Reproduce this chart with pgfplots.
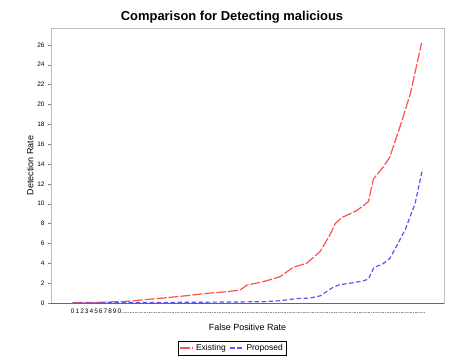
\documentclass[border=0pt]{standalone}
\usepackage{pgfplots}
\pgfplotsset{compat=1.18}
\usepackage{fontspec}
\setmainfont{Liberation Sans}
\definecolor{exred}{RGB}{255,80,80}
\definecolor{prblue}{RGB}{85,85,255}
\definecolor{frame}{RGB}{190,190,190}
\begin{document}
\begin{tikzpicture}[x=1bp,y=1bp]
\path[use as bounding box] (0,0) rectangle (453,363);
\node[font=\bfseries\fontsize{13}{15}\selectfont] at (232,346) {Comparison for Detecting malicious};
\begin{axis}[
  at={(51bp,60bp)}, anchor=south west,
  scale only axis, width=393bp, height=275bp,
  xmin=-4.65, xmax=79.5, ymin=0, ymax=27.7,
  axis line style={draw=frame},
  xtick={0,...,75},
  xticklabel={\ifnum\ticknum<11 \pgfmathparse{int(mod(\ticknum,10))}\pgfmathresult\else ...\fi},
  xticklabel style={font=\fontsize{6.5}{7}\selectfont, inner xsep=0pt, text height=4.8pt, text depth=0pt, anchor=north, yshift=1pt},
  major x tick style={draw=none},
  ytick={0,2,...,26},
  yticklabel style={font=\fontsize{6.5}{7}\selectfont},
  /pgf/number format/assume math mode=true,
  tick align=outside, major tick length=3bp,
  ytick style={draw=gray},
  tick pos=left,
  xlabel={False Positive Rate}, ylabel={Detection Rate},
  xlabel style={font=\fontsize{9}{10}\selectfont, yshift=-4pt},
  ylabel style={font=\fontsize{9}{10}\selectfont, yshift=-3pt},
  legend columns=2,
  legend style={at={(0.4606,-0.1636)}, anchor=center, font=\fontsize{8.5}{9}\selectfont, draw=black, line width=0.4pt, inner sep=1pt, /tikz/every even column/.append style={column sep=2pt}},
  legend cell align=left,
  legend image post style={xscale=0.8},
  clip=false,
]
\draw[gray!80!black, line width=0.6pt] (axis cs:-4.65,0) -- (axis cs:79.5,0);
\addplot[exred, line width=1.2pt, dash pattern=on 10bp off 2bp] coordinates {
(0,0.03) (5.8,0.07) (12.9,0.2) (14.4,0.3) (18.7,0.47) (24.4,0.74) (28.7,0.97) (33,1.14) (35.8,1.3)
(37.3,1.8) (40.8,2.15) (44.4,2.65) (47.2,3.6) (50.1,4.0) (53,5.2) (55.1,6.9) (56.2,8.0) (57.6,8.6)
(60.8,9.3) (63.3,10.2) (64.4,12.5) (66.5,13.7) (67.9,14.7) (70.1,17.8) (72.3,21.1) (74.7,26.2)};
\addlegendentry{Existing}
\addplot[prblue, line width=1.2pt, dash pattern=on 4.5bp off 2.5bp] coordinates {
(0,0.0) (23,0.07) (34,0.1) (40.8,0.13) (44.4,0.23) (48,0.45) (50.8,0.5) (53,0.72) (55.8,1.6)
(57.2,1.85) (58.8,1.95) (62,2.2) (63.3,2.4) (64.5,3.6) (66.3,3.9) (67.9,4.5) (69.3,5.7) (71.2,7.4)
(73.3,10.0) (74.9,13.5)};
\addlegendentry{Proposed}
\end{axis}
\end{tikzpicture}
\end{document}
